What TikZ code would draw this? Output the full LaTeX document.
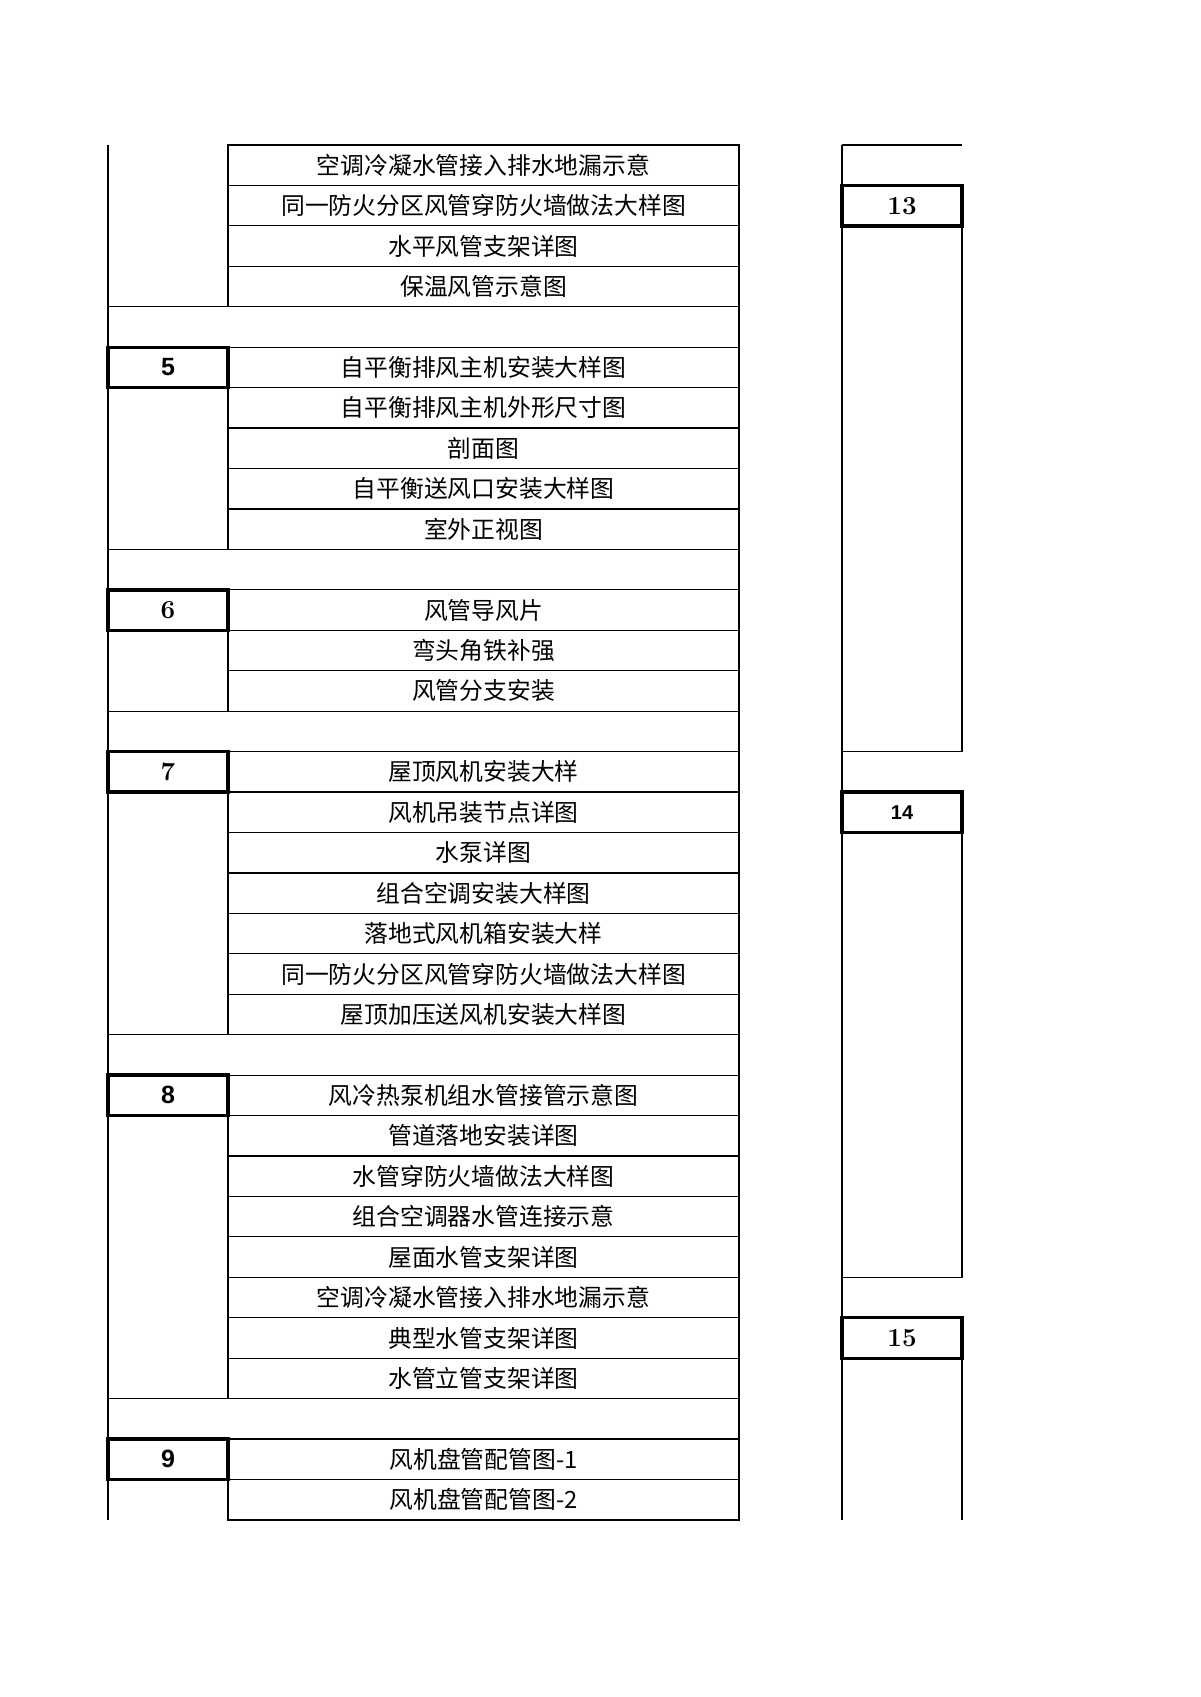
\documentclass[tikz,border=0pt]{standalone}
\usepackage{fontspec}
\newfontfamily\cjk{Noto Sans CJK SC}
\newfontfamily\arial{Liberation Sans}
\begin{document}
\begin{tikzpicture}[x=0.5pt,y=-0.5pt,
  rule/.style={line width=0.6pt},
  cell/.style={draw, line width=0.6pt, minimum width=255.5pt, minimum height=20.22pt,
    inner sep=0pt, outer sep=0pt, font=\cjk\fontsize{11.9}{12}\selectfont},
  gaprow/.style={draw, line width=0.6pt, minimum width=315.5pt, minimum height=20.22pt,
    inner sep=0pt, outer sep=0pt},
  numbox/.style={draw, line width=1.7pt, minimum width=60pt, minimum height=20.22pt,
    inner sep=0pt, outer sep=0pt},
  sansnum/.style={font=\arial\bfseries\fontsize{12.5}{12.5}\selectfont},
  sansnumsmall/.style={font=\arial\bfseries\fontsize{10}{10}\selectfont},
  serifnum/.style={font=\bfseries\fontsize{13}{13}\selectfont}]
\useasboundingbox (0,0) rectangle (1200,1697);
% middle column cells
\foreach \r/\t in {
  0/空调冷凝水管接入排水地漏示意,
  1/同一防火分区风管穿防火墙做法大样图,
  2/水平风管支架详图,
  3/保温风管示意图,
  5/自平衡排风主机安装大样图,
  6/自平衡排风主机外形尺寸图,
  7/剖面图,
  8/自平衡送风口安装大样图,
  9/室外正视图,
  11/风管导风片,
  12/弯头角铁补强,
  13/风管分支安装,
  15/屋顶风机安装大样,
  16/风机吊装节点详图,
  17/水泵详图,
  18/组合空调安装大样图,
  19/落地式风机箱安装大样,
  20/同一防火分区风管穿防火墙做法大样图,
  21/屋顶加压送风机安装大样图,
  23/风冷热泵机组水管接管示意图,
  24/管道落地安装详图,
  25/水管穿防火墙做法大样图,
  26/组合空调器水管连接示意,
  27/屋面水管支架详图,
  28/空调冷凝水管接入排水地漏示意,
  29/典型水管支架详图,
  30/水管立管支架详图,
  32/风机盘管配管图-1,
  33/风机盘管配管图-2}
  \node[cell] (m\r) at (483.5,{145+(\r+0.5)*40.44}) {\t};
% blank separator rows
\foreach \r in {4,10,14,22,31}
  \node[gaprow] (g\r) at (423.5,{145+(\r+0.5)*40.44}) {};
% left outer rule
\draw[rule] (108,145) -- (108,{145+34*40.44});
% number boxes, left column
\node[numbox, sansnum]  (n5) at (168,{145+5.5*40.44}) {5};
\node[numbox, serifnum] (n6) at (168,{145+11.5*40.44}) {6};
\node[numbox, serifnum] (n7) at (168,{145+15.5*40.44}) {7};
\node[numbox, sansnum]  (n8) at (168,{145+23.5*40.44}) {8};
\node[numbox, sansnum]  (n9) at (168,{145+32.5*40.44}) {9};
% right column
\draw[rule] (842,145) -- (962,145);
\draw[rule] (842,145) -- (842,{145+34*40.44});
\draw[rule] (962,{145+2*40.44}) -- (962,{145+15*40.44}) -- (842,{145+15*40.44});
\draw[rule] (962,{145+17*40.44}) -- (962,{145+28*40.44}) -- (842,{145+28*40.44});
\draw[rule] (962,{145+30*40.44}) -- (962,{145+34*40.44});
\node[numbox, serifnum]     (n13) at (902,{145+1.5*40.44}) {13};
\node[numbox, sansnumsmall] (n14) at (902,{145+16.5*40.44}) {14};
\node[numbox, serifnum]     (n15) at (902,{145+29.5*40.44}) {15};
\end{tikzpicture}
\end{document}
